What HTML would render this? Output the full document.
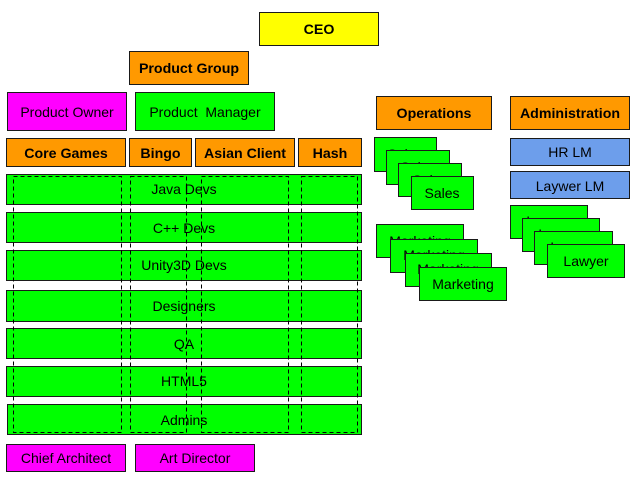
<!DOCTYPE html>
<html>
<head>
<meta charset="utf-8">
<style>
html,body{margin:0;padding:0;background:#fff;width:635px;height:481px;overflow:hidden}
svg{display:block}
rect{stroke:#1a1a1a;stroke-width:1}
text{font-family:"Liberation Sans",sans-serif;font-size:14px;fill:#000;text-anchor:middle}
.b{font-weight:bold;font-size:14.2px}
.o{fill:#ff9900}.g{fill:#00ff00}.m{fill:#ff00ff}.y{fill:#ffff00}.l{fill:#6d9eeb}
.d{fill:none;stroke:#000;stroke-dasharray:4 3}
</style>
</head>
<body>
<svg width="635" height="481" viewBox="0 0 635 481" xmlns="http://www.w3.org/2000/svg">
<rect class="y" x="259.5" y="12.5" width="119" height="33"/><text class="b" x="319" y="34">CEO</text>
<rect class="o" x="129.5" y="51.5" width="119" height="33"/><text class="b" x="189" y="73">Product Group</text>
<rect class="m" x="7.5" y="92.5" width="119" height="38"/><text x="67" y="117">Product Owner</text>
<rect class="g" x="135.5" y="92.5" width="139" height="38"/><text x="205" y="117" xml:space="preserve">Product  Manager</text>
<rect class="o" x="376.5" y="96.5" width="115" height="33"/><text class="b" x="434" y="118">Operations</text>
<rect class="o" x="510.5" y="96.5" width="119" height="33"/><text class="b" x="570" y="118">Administration</text>

<rect class="o" x="6.5" y="138.5" width="119" height="28"/><text class="b" x="66" y="158">Core Games</text>
<rect class="o" x="129.5" y="138.5" width="62" height="28"/><text class="b" x="160.5" y="158">Bingo</text>
<rect class="o" x="195.5" y="138.5" width="99" height="28"/><text class="b" x="245" y="158">Asian Client</text>
<rect class="o" x="298.5" y="138.5" width="63" height="28"/><text class="b" x="330" y="158">Hash</text>

<rect class="g" x="6.5" y="174.5" width="355" height="30"/><text x="184" y="194">Java Devs</text>
<rect class="g" x="6.5" y="212.5" width="355" height="30"/><text x="184" y="233">C++ Devs</text>
<rect class="g" x="6.5" y="250.5" width="355" height="30"/><text x="184" y="270">Unity3D Devs</text>
<rect class="g" x="6.5" y="290.5" width="355" height="31"/><text x="184" y="311">Designers</text>
<rect class="g" x="6.5" y="328.5" width="355" height="30"/><text x="184" y="349">QA</text>
<rect class="g" x="6.5" y="366.5" width="355" height="30"/><text x="184" y="386">HTML5</text>
<rect class="g" x="7.5" y="404.5" width="354" height="30"/><text x="184" y="425">Admins</text>

<rect class="d" x="13.5" y="176.5" width="108" height="256"/>
<rect class="d" x="130.5" y="176.5" width="56" height="256"/>
<rect class="d" x="201.5" y="176.5" width="87" height="256"/>
<rect class="d" x="301.5" y="176.5" width="56" height="256"/>

<rect class="m" x="6.5" y="444.5" width="119" height="27"/><text x="66" y="463">Chief Architect</text>
<rect class="m" x="135.5" y="444.5" width="119" height="27"/><text x="195" y="463">Art Director</text>

<rect class="g" x="374.5" y="137.5" width="62" height="34"/><text x="405" y="159">Sales</text>
<rect class="g" x="386.5" y="150.5" width="63" height="34"/><text x="418" y="172">Sales</text>
<rect class="g" x="398.5" y="163.5" width="63" height="33"/><text x="430" y="185">Sales</text>
<rect class="g" x="411.5" y="176.5" width="62" height="33"/><text x="442" y="198">Sales</text>

<rect class="g" x="376.5" y="224.5" width="87" height="33"/><text x="420" y="246">Marketing</text>
<rect class="g" x="390.5" y="239.5" width="87" height="33"/><text x="434" y="260">Marketing</text>
<rect class="g" x="405.5" y="253.5" width="86" height="33"/><text x="448" y="274">Marketing</text>
<rect class="g" x="419.5" y="267.5" width="87" height="33"/><text x="463" y="289">Marketing</text>

<rect class="l" x="510.5" y="138.5" width="119" height="27"/><text x="570" y="157">HR LM</text>
<rect class="l" x="510.5" y="171.5" width="119" height="27"/><text x="570" y="191">Laywer LM</text>

<rect class="g" x="510.5" y="205.5" width="77" height="33"/><text x="549" y="226">Lawyer</text>
<rect class="g" x="522.5" y="218.5" width="77" height="33"/><text x="561" y="239">Lawyer</text>
<rect class="g" x="534.5" y="231.5" width="78" height="33"/><text x="573" y="252">Lawyer</text>
<rect class="g" x="547.5" y="244.5" width="77" height="33"/><text x="586" y="266">Lawyer</text>
</svg>
</body>
</html>
